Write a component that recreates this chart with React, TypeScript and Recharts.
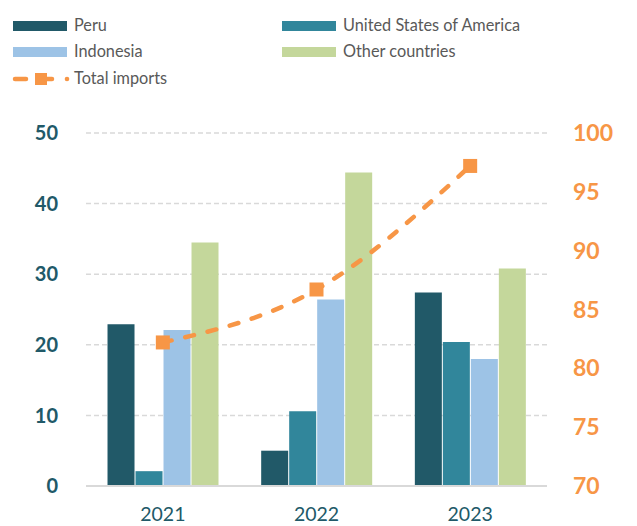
import { ComposedChart, Bar, Line, XAxis, YAxis, CartesianGrid } from "recharts";

const years = ["2021", "2022", "2023"];
const peru = [22.9, 5.0, 27.4];
const usa = [2.1, 10.6, 20.4];
const indonesia = [22.1, 26.4, 18.0];
const otherCountries = [34.5, 44.4, 30.8];
const totalImports = [82.2, 86.7, 97.2];
const leftTicks = [0, 10, 20, 30, 40, 50];
const rightTicks = [70, 75, 80, 85, 90, 95, 100];

const PERU = "#215968";
const USA = "#31869B";
const INDO = "#9DC3E6";
const OTHER = "#C4D79B";
const ORANGE = "#F79646";
const FONT = "Lato, 'Open Sans', sans-serif";

const data = years.map((year, i) => ({
  year,
  peru: peru[i],
  usa: usa[i],
  indonesia: indonesia[i],
  other: otherCountries[i],
  total: totalImports[i],
}));

const legendBars = [
  { name: "Peru", color: PERU, x: 13, y: 26 },
  { name: "United States of America", color: USA, x: 282, y: 26 },
  { name: "Indonesia", color: INDO, x: 13, y: 52 },
  { name: "Other countries", color: OTHER, x: 282, y: 52 },
];

function ChartLegend() {
  const text = { position: "absolute" as const, fontFamily: FONT, fontSize: 16.3, color: "#595959", lineHeight: "20px" };
  return (
    <>
      {legendBars.map((l) => (
        <div key={l.name}>
          <div style={{ position: "absolute", left: l.x, top: l.y - 5, width: 54, height: 10, background: l.color }} />
          <div style={{ ...text, left: l.x + 61, top: l.y - 11 }}>{l.name}</div>
        </div>
      ))}
      <svg style={{ position: "absolute", left: 10, top: 70 }} width={64} height={18}>
        <line x1={5} y1={9} x2={16} y2={9} stroke={ORANGE} strokeWidth={4.5} strokeLinecap="round" />
        <rect x={25} y={3} width={12} height={12} fill={ORANGE} />
        <line x1={35} y1={9} x2={42} y2={9} stroke={ORANGE} strokeWidth={4.5} strokeLinecap="round" />
        <circle cx={57} cy={9} r={2.3} fill={ORANGE} />
      </svg>
      <div style={{ ...text, left: 74, top: 68 }}>Total imports</div>
    </>
  );
}

export default function App() {
  return (
    <div style={{ position: "absolute", left: 0, top: 0, width: 637, height: 526, background: "#fff" }}>
      <ChartLegend />
      <ComposedChart
        width={637}
        height={526}
        data={data}
        margin={{ top: 133, right: 0, bottom: 0, left: 0 }}
        barCategoryGap="14%"
        barGap={1}
      >
        <CartesianGrid yAxisId="left" vertical={false} stroke="#D9D9D9" strokeWidth={1.5} strokeDasharray="5 3" />
        <XAxis
          dataKey="year"
          height={40}
          tickLine={false}
          axisLine={{ stroke: "#D9D9D9", strokeWidth: 2 }}
          tickMargin={15}
          tick={{ fill: PERU, fontSize: 19.5, fontFamily: FONT }}
        />
        <YAxis
          yAxisId="left"
          width={86}
          domain={[0, 50]}
          ticks={leftTicks}
          axisLine={false}
          tickLine={false}
          tickMargin={22}
          tick={{ fill: PERU, fontSize: 20, fontWeight: 700, fontFamily: FONT }}
        />
        <YAxis
          yAxisId="right"
          orientation="right"
          width={90}
          domain={[70, 100]}
          ticks={rightTicks}
          axisLine={false}
          tickLine={false}
          tickMargin={20}
          tick={{ fill: ORANGE, fontSize: 23, fontWeight: 700, fontFamily: FONT }}
        />
        <Bar yAxisId="left" dataKey="peru" fill={PERU} isAnimationActive={false} />
        <Bar yAxisId="left" dataKey="usa" fill={USA} isAnimationActive={false} />
        <Bar yAxisId="left" dataKey="indonesia" fill={INDO} isAnimationActive={false} />
        <Bar yAxisId="left" dataKey="other" fill={OTHER} isAnimationActive={false} />
        <Line
          yAxisId="right"
          type="monotone"
          dataKey="total"
          stroke={ORANGE}
          strokeWidth={4.5}
          strokeDasharray="9 14"
          strokeLinecap="round"
          isAnimationActive={false}
          activeDot={false}
          dot={(p: any) => <rect key={p.index} x={p.cx - 7} y={p.cy - 7} width={14} height={14} fill={ORANGE} />}
        />
      </ComposedChart>
    </div>
  );
}
